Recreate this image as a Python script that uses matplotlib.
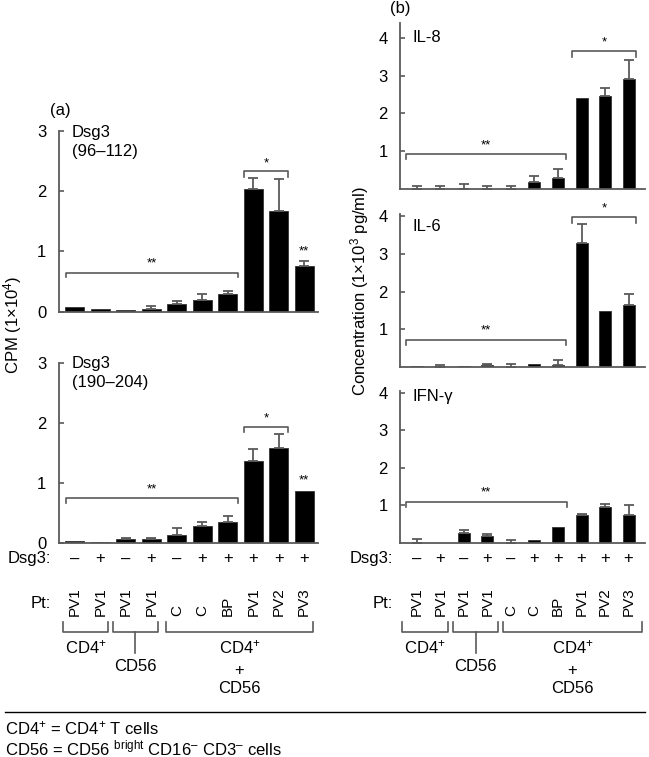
import matplotlib
matplotlib.use("Agg")
import matplotlib.pyplot as plt
import matplotlib.transforms as mtransforms
import numpy as np

plt.rcParams["font.family"] = ["Liberation Sans", "DejaVu Sans"]
plt.rcParams["mathtext.fontset"] = "custom"
plt.rcParams["mathtext.rm"] = "Liberation Sans"
plt.rcParams["mathtext.it"] = "Liberation Sans:italic"
plt.rcParams["mathtext.default"] = "regular"

# categories
dsg3_signs = ["\u2013", "+", "\u2013", "+", "\u2013", "+", "+", "+", "+", "+"]
patients = ["PV1", "PV1", "PV1", "PV1", "C", "C", "BP", "PV1", "PV2", "PV3"]

# (a) proliferation, CPM (1x10^4)
dsg3_96_mean = [0.08, 0.05, 0.03, 0.05, 0.13, 0.20, 0.30, 2.03, 1.67, 0.76]
dsg3_96_err = [0, 0, 0, 0.05, 0.05, 0.10, 0.05, 0.19, 0.53, 0.09]
dsg3_190_mean = [0.03, 0.02, 0.06, 0.06, 0.13, 0.28, 0.35, 1.37, 1.58, 0.87]
dsg3_190_err = [0, 0, 0.02, 0.02, 0.12, 0.06, 0.10, 0.20, 0.24, 0]

# (b) cytokines, 1x10^3 pg/ml
il8_mean = [0.01, 0.0, 0.01, 0.01, 0.01, 0.19, 0.30, 2.42, 2.45, 2.90]
il8_err = [0.07, 0.08, 0.11, 0.07, 0.07, 0.16, 0.24, 0, 0.21, 0.51]
il6_mean = [0.03, 0.01, 0.03, 0.06, 0.01, 0.09, 0.05, 3.29, 1.49, 1.64]
il6_err = [0, 0.04, 0, 0.04, 0.09, 0, 0.13, 0.50, 0, 0.29]
ifng_mean = [0.0, 0.0, 0.25, 0.18, 0.0, 0.08, 0.41, 0.74, 0.94, 0.75]
ifng_err = [0.09, 0, 0.09, 0.04, 0.06, 0, 0, 0.03, 0.10, 0.26]

W, H = 649, 757
GREY = "#5a5a5a"
FS = 12
STAR = 9.5

fig = plt.figure(figsize=(W / 100, H / 100), dpi=100)


def fy(px):
    return 1 - px / H


def add_axes(x0, x1, ytop, y0):
    return fig.add_axes([x0 / W, fy(y0), (x1 - x0) / W, (y0 - ytop) / H])


def draw_panel(ax, mean, err, xlim, ylim, ticks, width):
    x = np.arange(len(mean))
    ax.bar(x, mean, width=width, color="black", edgecolor="#333333", linewidth=0.6)
    err = np.array(err)
    keep = err > 0
    ax.errorbar(x[keep], np.array(mean)[keep],
                yerr=[np.zeros(keep.sum()), err[keep]],
                fmt="none", ecolor=GREY, elinewidth=1.3, capsize=3.5, capthick=1.3)
    ax.set_xlim(*xlim)
    ax.set_ylim(*ylim)
    ax.set_yticks(ticks)
    ax.set_xticks([])
    for s in ["top", "right"]:
        ax.spines[s].set_visible(False)
    for s in ["left", "bottom"]:
        ax.spines[s].set_color(GREY)
        ax.spines[s].set_linewidth(1.3)
    ax.tick_params(axis="y", direction="in", length=3.5, width=1.2,
                   color=GREY, labelsize=FS, pad=9)
    ax.patch.set_visible(False)


def bracket(ax, x0, x1, y, drop, text, ty):
    ax.plot([x0, x0, x1, x1], [y - drop, y, y, y - drop], color=GREY,
            lw=1.2, clip_on=False)
    ax.text((x0 + x1) / 2, ty, text, ha="center", va="center", fontsize=STAR)


# left column
lxlim = (-0.62, 9.54)
ax_a1 = add_axes(59, 318, 131, 311.7)
draw_panel(ax_a1, dsg3_96_mean, dsg3_96_err, lxlim, (0, 3), [0, 1, 2, 3], 0.75)
ax_a1.text(0.05, 0.989, "Dsg3", transform=ax_a1.transAxes,
           ha="left", va="center", fontsize=FS)
ax_a1.text(0.05, 0.884, "(96\u2013112)", transform=ax_a1.transAxes,
           ha="left", va="center", fontsize=FS)
bracket(ax_a1, -0.35, 6.4, 0.65, 0.08, "**", 0.8)
bracket(ax_a1, 6.62, 8.38, 2.33, 0.09, "*", 2.46)
ax_a1.text(9, 1.0, "**", ha="center", va="center", fontsize=STAR)

ax_a2 = add_axes(59, 318, 362.7, 542.7)
draw_panel(ax_a2, dsg3_190_mean, dsg3_190_err, lxlim, (0, 3), [0, 1, 2, 3], 0.75)
ax_a2.text(0.05, 0.998, "Dsg3", transform=ax_a2.transAxes,
           ha="left", va="center", fontsize=FS)
ax_a2.text(0.05, 0.889, "(190\u2013204)", transform=ax_a2.transAxes,
           ha="left", va="center", fontsize=FS)
bracket(ax_a2, -0.35, 6.4, 0.74, 0.08, "**", 0.89)
bracket(ax_a2, 6.62, 8.38, 1.93, 0.08, "*", 2.07)
ax_a2.text(9, 1.03, "**", ha="center", va="center", fontsize=STAR)

fig.text(60 / W, fy(111), "(a)", ha="center", va="center", fontsize=FS)
fig.text(13 / W, fy(325), "CPM (1\u00d710$^{4}$)", rotation=90,
         ha="center", va="center", fontsize=FS)

# right column
rxlim = (-0.72, 9.70)
ax_b1 = add_axes(400, 645, 23.5, 189)
draw_panel(ax_b1, il8_mean, il8_err, rxlim, (0, 4.38), [1, 2, 3, 4], 0.51)
ax_b1.text(-0.2, 4.02, "IL-8", ha="left", va="center", fontsize=FS)
bracket(ax_b1, -0.47, 6.33, 0.93, 0.14, "**", 1.15)
bracket(ax_b1, 6.6, 9.3, 3.66, 0.16, "*", 3.87)

ax_b2 = add_axes(400, 645, 214, 367.3)
draw_panel(ax_b2, il6_mean, il6_err, rxlim, (0, 4.045), [1, 2, 3, 4], 0.51)
ax_b2.text(-0.2, 3.71, "IL-6", ha="left", va="center", fontsize=FS)
bracket(ax_b2, -0.47, 6.33, 0.72, 0.13, "**", 0.96)
bracket(ax_b2, 6.6, 9.3, 3.96, 0.14, "*", 4.18)

ax_b3 = add_axes(400, 645, 390.7, 542.7)
draw_panel(ax_b3, ifng_mean, ifng_err, rxlim, (0, 4.05), [1, 2, 3, 4], 0.51)
ax_b3.text(-0.2, 3.89, "IFN-\u03b3", ha="left", va="center", fontsize=FS)
bracket(ax_b3, -0.47, 6.37, 1.09, 0.13, "**", 1.33)

fig.text(400 / W, fy(9), "(b)", ha="center", va="center", fontsize=FS)
fig.text(360 / W, fy(291), "Concentration (1\u00d710$^{3}$ pg/ml)", rotation=90,
         ha="center", va="center", fontsize=FS)


# category labels under the bottom panels
def category_labels(ax, label_right, brackets, cd56_x):
    tr = mtransforms.blended_transform_factory(ax.transData, fig.transFigure)
    x = np.arange(len(patients))
    fig.text(label_right / W, fy(559), "Dsg3:", ha="right", va="center", fontsize=FS)
    fig.text(label_right / W, fy(603), "Pt:", ha="right", va="center", fontsize=FS)
    for xi, sign, pt in zip(x, dsg3_signs, patients):
        ax.text(xi, fy(559), sign, transform=tr, ha="center", va="center", fontsize=FS)
        ax.text(xi, fy(616), pt, transform=tr, ha="center", va="bottom",
                rotation=90, fontsize=11)
    for x0, x1 in brackets:
        ax.plot([x0, x0, x1, x1], [fy(622), fy(631.7), fy(631.7), fy(622)],
                transform=tr, color=GREY, lw=1.2, clip_on=False)
    (b1, b2, b3) = brackets
    ax.text(sum(b1) / 2, fy(647.7), "CD4$^{+}$", transform=tr, ha="center",
            va="center", fontsize=FS)
    ax.plot([cd56_x, cd56_x], [fy(631.7), fy(653)], transform=tr,
            color=GREY, lw=1.2, clip_on=False)
    ax.text(cd56_x, fy(666.7), "CD56", transform=tr, ha="center",
            va="center", fontsize=FS)
    mid = sum(b3) / 2
    ax.text(mid, fy(647.7), "CD4$^{+}$", transform=tr, ha="center", va="center", fontsize=FS)
    ax.text(mid, fy(670.7), "+", transform=tr, ha="center", va="center", fontsize=FS)
    ax.text(mid, fy(688.3), "CD56", transform=tr, ha="center", va="center", fontsize=FS)


category_labels(ax_a2, 51, [(-0.47, 1.3), (1.5, 3.27), (3.58, 9.35)], 2.38)
category_labels(ax_b3, 393, [(-0.64, 1.32), (1.53, 3.45), (3.66, 9.57)], 2.5)

# footnote
fig.add_artist(plt.Line2D([5 / W, 645 / W], [fy(712), fy(712)], color="black", lw=1.0))
fig.text(5 / W, fy(728), "CD4$^{+}$ = CD4$^{+}$ T cells", ha="left", va="center", fontsize=FS)
fig.text(5 / W, fy(748), "CD56 = CD56 $^{bright}$ CD16$^{\u2013}$ CD3$^{\u2013}$ cells",
         ha="left", va="center", fontsize=FS)

fig.savefig("out.png", dpi=100)
